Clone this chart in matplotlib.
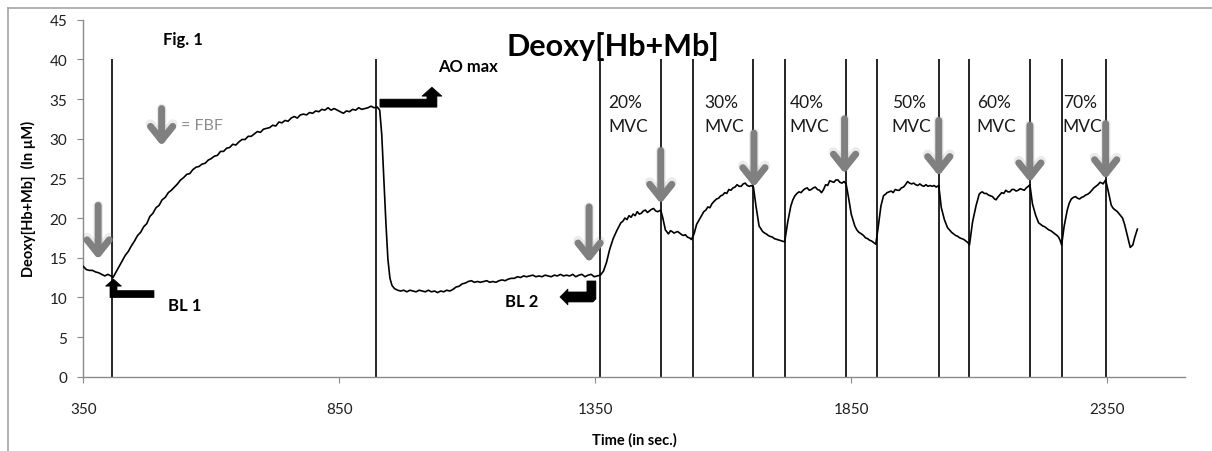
import matplotlib
matplotlib.use("Agg")
import matplotlib.pyplot as plt
import matplotlib.transforms as mtransforms
from matplotlib.patches import Polygon
from matplotlib.lines import Line2D

plt.rcParams['font.family'] = ['Lato', 'DejaVu Sans']

# ---------------- data ----------------
time_s = [
    350, 356, 362, 368, 374, 380, 386, 392, 398, 404, 408,
    414, 420, 426, 432, 438, 444, 450, 456, 462, 468, 474, 480, 486, 492, 498,
    504, 510, 516, 522, 528, 534, 540, 546, 552, 558, 564, 570, 576, 582, 588,
    594, 600, 606, 612, 618, 624, 630, 636, 642, 648, 654, 660, 666, 672, 678,
    684, 690, 696, 702, 708, 714, 720, 726, 732, 738, 744, 750, 756, 762, 768,
    774, 780, 786, 792, 798, 804, 810, 816, 822, 828, 834, 840, 846, 852, 858,
    864, 870, 876, 882, 888, 894, 900, 906, 912, 918, 924,
    929, 933, 937, 941, 945, 949, 953, 958, 964, 970, 976, 982, 988, 994,
    1000, 1006, 1012, 1018, 1024, 1030, 1036, 1042, 1048, 1054, 1060, 1066,
    1072, 1078, 1084, 1090, 1096, 1102, 1108, 1114, 1120, 1126, 1132, 1138,
    1144, 1150, 1156, 1162, 1168, 1174, 1180, 1186, 1192, 1198, 1204, 1210,
    1216, 1222, 1228, 1234, 1240, 1246, 1252, 1258, 1264, 1270, 1276, 1282,
    1288, 1294, 1300, 1306, 1312, 1318, 1324, 1330, 1336, 1342, 1348, 1354, 1360,
    1366, 1372, 1378, 1385, 1392, 1400, 1404, 1408, 1412, 1416, 1420, 1424, 1428,
    1432, 1436, 1440, 1444, 1448, 1452, 1456, 1460, 1464, 1468, 1472, 1478,
    1482, 1487, 1493, 1497, 1500, 1504, 1507, 1511, 1515, 1519, 1522, 1526, 1530, 1534, 1538,
    1543, 1548, 1555, 1562, 1566, 1570, 1574, 1578, 1582, 1587, 1591, 1595, 1599,
    1603, 1607, 1611, 1615, 1619, 1623, 1627, 1631, 1635, 1639, 1643, 1647, 1651, 1655, 1659,
    1664, 1670, 1677, 1681, 1684, 1688, 1691, 1696, 1700, 1705, 1710, 1715, 1720,
    1726, 1732, 1736, 1740, 1744, 1748, 1752, 1756, 1760, 1764, 1768, 1772, 1776,
    1780, 1784, 1788, 1792, 1796, 1800, 1804, 1808, 1812, 1816, 1820, 1824, 1828,
    1832, 1836, 1840,
    1845, 1850, 1857, 1861, 1865, 1870, 1874, 1878, 1882, 1886, 1890, 1894, 1898,
    1903, 1908, 1913, 1917, 1920, 1924, 1928, 1932, 1936, 1940, 1944, 1948, 1952,
    1956, 1960, 1964, 1968, 1972, 1976, 1980, 1984, 1988, 1992, 1996, 2000, 2004,
    2008, 2012, 2016, 2021,
    2026, 2032, 2038, 2042, 2046, 2050, 2054, 2058, 2062, 2066, 2070, 2074, 2078, 2081,
    2087, 2094, 2100, 2103, 2106, 2110, 2114, 2118, 2122, 2126, 2130, 2133, 2136,
    2140, 2144, 2148, 2152, 2156, 2160, 2164, 2168, 2172, 2176, 2180, 2184, 2188,
    2192, 2196, 2199,
    2204, 2210, 2216, 2220, 2224, 2228, 2232, 2236, 2240, 2244, 2248, 2252, 2255, 2258, 2261,
    2266, 2272, 2276, 2280, 2284, 2288, 2292, 2296, 2300, 2304, 2308, 2312, 2316,
    2320, 2324, 2328, 2332, 2336, 2340, 2342, 2347,
    2352, 2358, 2362, 2366, 2370, 2375, 2380, 2384, 2390, 2395, 2400, 2404, 2409,
]
deoxy_um = [
    13.9, 13.5, 13.4, 13.4, 13.2, 13.1, 12.9, 12.7, 12.9, 12.7, 12.5,
    13.2, 13.9, 14.6, 15.3, 15.8, 16.5, 17.1, 17.8, 18.2, 18.9, 19.3, 20.2, 20.6, 21.3, 21.6,
    22.3, 22.6, 23.2, 23.5, 23.9, 24.3, 24.8, 25.1, 25.5, 25.6, 26.1, 26.4, 26.5, 26.8, 26.9,
    27.3, 27.5, 27.8, 27.9, 28.4, 28.4, 28.8, 28.9, 29.3, 29.2, 29.6, 29.9, 29.9, 30.3, 30.3,
    30.6, 30.9, 30.8, 31.2, 31.3, 31.4, 31.7, 31.6, 32.1, 32.0, 32.3, 32.2, 32.6, 32.8, 32.6,
    33.0, 33.1, 33.0, 33.3, 33.2, 33.5, 33.4, 33.7, 33.6, 33.9, 33.6, 33.8, 33.6, 33.4, 33.2,
    33.5, 33.4, 33.7, 33.6, 33.9, 33.7, 33.8, 33.9, 34.1, 33.9, 34.0,
    33.6, 30.5, 25.0, 19.5, 14.8, 12.4, 11.5, 11.1, 10.9, 10.8, 10.9, 10.7, 10.9, 10.8,
    10.7, 10.9, 10.8, 10.7, 10.9, 10.7, 10.8, 10.6, 10.8, 10.7, 10.9, 10.8,
    11.0, 11.3, 11.4, 11.7, 11.8, 12.0, 12.1, 11.9, 12.0, 11.9, 12.0, 12.1,
    11.9, 12.0, 11.9, 12.1, 12.2, 12.1, 12.3, 12.4, 12.4, 12.6, 12.5, 12.7,
    12.6, 12.7, 12.8, 12.6, 12.7, 12.6, 12.8, 12.7, 12.6, 12.8, 12.7, 12.9,
    12.7, 12.8, 12.7, 12.9, 12.6, 12.8, 12.9, 12.6, 12.8, 12.9, 12.6, 12.7, 12.8,
    13.3, 14.4, 16.0, 17.4, 18.4, 19.4, 19.6, 20.0, 19.8, 20.3, 20.1, 20.5, 20.3,
    20.8, 20.5, 20.6, 20.9, 21.0, 20.7, 20.9, 21.1, 21.2, 20.9, 20.8, 21.0,
    20.0, 18.5, 18.0, 18.4, 18.3, 18.1, 18.2, 18.3, 18.1, 17.9, 17.8, 17.9, 17.6, 17.5, 17.3,
    18.0, 19.2, 20.0, 20.8, 21.0, 21.4, 21.3, 21.8, 22.1, 22.4, 22.5, 22.8, 22.9,
    23.2, 23.1, 23.6, 23.5, 23.8, 23.9, 24.2, 24.0, 24.0, 24.3, 24.4, 24.1, 24.0, 24.1, 23.9,
    21.5, 19.0, 18.3, 18.1, 18.0, 17.8, 17.7, 17.6, 17.4, 17.3, 17.2, 17.1, 17.0,
    19.5, 21.5, 22.3, 22.8, 23.1, 23.3, 23.2, 23.5, 23.7, 23.8, 23.5, 23.6, 23.8,
    23.9, 23.6, 23.5, 23.2, 23.6, 24.2, 24.1, 24.7, 24.6, 24.5, 24.8, 24.8, 24.5,
    24.4, 24.6, 24.3,
    22.5, 20.5, 19.0, 18.5, 18.2, 18.0, 17.8, 17.5, 17.4, 17.2, 17.1, 16.9, 16.7,
    19.0, 21.5, 22.8, 23.0, 23.2, 23.3, 23.4, 23.2, 23.6, 23.5, 23.5, 23.8, 23.9,
    24.2, 24.6, 24.4, 24.3, 24.4, 24.2, 24.1, 24.3, 24.1, 24.0, 24.2, 24.0, 24.1,
    24.0, 24.1, 23.9, 24.1,
    21.3, 19.8, 18.8, 18.5, 18.2, 18.0, 17.8, 17.7, 17.5, 17.4, 17.3, 17.1, 16.9, 16.6,
    19.5, 21.6, 23.0, 23.2, 23.3, 23.1, 23.1, 22.9, 22.8, 22.7, 22.4, 22.3, 22.6,
    22.9, 23.2, 23.1, 23.5, 23.3, 23.3, 23.6, 23.6, 23.4, 23.5, 23.7, 23.6, 23.5,
    23.8, 24.0, 24.2,
    21.8, 20.4, 19.4, 19.2, 19.0, 18.9, 18.7, 18.5, 18.4, 18.2, 18.0, 17.8, 17.6, 17.2, 16.6,
    19.0, 21.0, 21.9, 22.4, 22.6, 22.7, 22.5, 22.4, 22.6, 22.7, 22.9, 23.0, 23.2,
    23.5, 23.8, 24.0, 24.2, 24.5, 24.4, 24.3, 24.8,
    23.4, 21.6, 21.2, 21.0, 20.8, 20.4, 20.0, 19.2, 17.6, 16.3, 16.6, 17.6, 18.6,
]

event_times = [407, 922, 1360, 1478, 1540, 1659, 1721, 1840, 1900,
               2021, 2080, 2199, 2261, 2347]

mvc_labels = ["20%", "30%", "40%", "50%", "60%", "70%"]
mvc_x = [1375, 1564, 1730, 1929, 2095, 2263]

fbf_x = [379, 1338, 1478, 1660, 1837, 2021, 2199, 2347]
fbf_top = [21.6, 21.4, 28.5, 30.7, 32.5, 32.3, 31.7, 31.9]
fbf_tip = [14.8, 14.4, 21.8, 23.9, 25.6, 25.3, 24.5, 24.9]

x_ticks = [350, 850, 1350, 1850, 2350]
y_ticks = [0, 5, 10, 15, 20, 25, 30, 35, 40, 45]

# ---------------- figure ----------------
W, H = 1212, 452
fig = plt.figure(figsize=(W / 100, H / 100), dpi=100)
ax_l, ax_r, ax_t, ax_b = 83.3, 1185, 20.7, 377.7
ax = fig.add_axes([ax_l / W, 1 - ax_b / H, (ax_r - ax_l) / W, (ax_b - ax_t) / H])

ax.set_xlim(350, 2502)
ax.set_ylim(0, 45)

ax.vlines(event_times, 0, 40, color='black', lw=1.2, zorder=2)
ax.plot(time_s, deoxy_um, color='black', lw=1.2, zorder=3)

for s in ['top', 'right']:
    ax.spines[s].set_visible(False)
for s in ['left', 'bottom']:
    ax.spines[s].set_color('#8a8a8a')
    ax.spines[s].set_linewidth(1.0)

ax.set_xticks(x_ticks)
ax.set_yticks(y_ticks)
ax.tick_params(axis='both', direction='out', length=4, color='#8a8a8a',
               labelcolor='#1f1f1f', labelsize=11)
ax.tick_params(axis='y', pad=7.5)
ax.tick_params(axis='x', pad=14)

ax.set_xlabel("Time (in sec.)", fontsize=10.5, fontweight='bold', labelpad=12)
ax.set_ylabel("Deoxy[Hb+Mb]  (In µM)", fontsize=10.5, fontweight='bold', labelpad=10)

fig.text(613 / W, 1 - 47 / H, "Deoxy[Hb+Mb]", fontsize=22, fontweight='bold',
         ha='center', va='center')
ax.text(506, 42.6, "Fig. 1", fontsize=12, fontweight='bold', va='center', ha='left')

# MVC labels
for lab, x in zip(mvc_labels, mvc_x):
    ax.text(x, 34.6, lab, fontsize=12.5, va='center', ha='left', color='#1a1a1a')
    ax.text(x, 31.65, "MVC", fontsize=12.5, va='center', ha='left', color='#1a1a1a')

# gray FBF arrows
ARROW = '->,head_length=10,head_width=8'


def gray_arrow(x, top, tip):
    ax.annotate('', xy=(x, tip), xytext=(x, top),
                arrowprops=dict(arrowstyle=ARROW, lw=7, color='#7f7f7f', alpha=0.15,
                                mutation_scale=1, shrinkA=0, shrinkB=0),
                zorder=4)
    ax.annotate('', xy=(x, tip), xytext=(x, top),
                arrowprops=dict(arrowstyle=ARROW, lw=5, color='#808080',
                                mutation_scale=1, shrinkA=0, shrinkB=0),
                zorder=5)


for x, t0, t1 in zip(fbf_x, fbf_top, fbf_tip):
    gray_arrow(x, t0, t1)

gray_arrow(503, 33.8, 29.1)
ax.text(541, 31.7, "= FBF", fontsize=11.5, color='#8c8c8c', va='center', ha='left')


# black bent arrows (shapes in pixel offsets from a data anchor)
def bent_arrow(x, y, pts):
    tr = mtransforms.Affine2D() + mtransforms.ScaledTranslation(x, y, ax.transData)
    ax.add_patch(Polygon(pts, closed=True, facecolor='black', edgecolor='black',
                         lw=0.5, transform=tr, zorder=6, clip_on=False))


bl1_shape = [(-3.5, -18.5), (40.5, -18.5), (40.5, -11.5), (3.5, -11.5), (3.5, -7),
             (8, -7), (0, 0), (-8, -7), (-3.5, -7)]
ao_shape = [(-52, -20), (5, -20), (5, -9), (10, -9), (0, 0), (-10, -9), (-5, -9),
            (-5, -12), (-52, -12)]
bl2_shape = [(0, 0), (8, 8), (8, 5), (27, 5), (27, 16), (36, 16), (36, -2),
             (33, -5), (8, -5), (8, -8)]

bent_arrow(409, 12.3, bl1_shape)
bent_arrow(1031, 36.5, ao_shape)
bent_arrow(1281, 10.05, bl2_shape)

ax.text(515, 9.0, "BL 1", fontsize=12, fontweight='bold', va='center', ha='left')
ax.text(1043, 39.2, "AO max", fontsize=12, fontweight='bold', va='center', ha='left')
ax.text(1174, 9.5, "BL 2", fontsize=12, fontweight='bold', va='center', ha='left')

# outer chart-area frame (left and top edges visible)
fig.add_artist(Line2D([7.5 / W, 7.5 / W], [0, 1 - 9 / H], color='#a6a6a6', lw=1.2))
fig.add_artist(Line2D([7.5 / W, 1], [1 - 9 / H, 1 - 9 / H], color='#a6a6a6', lw=1.2))

fig.savefig("out.png", dpi=100)
